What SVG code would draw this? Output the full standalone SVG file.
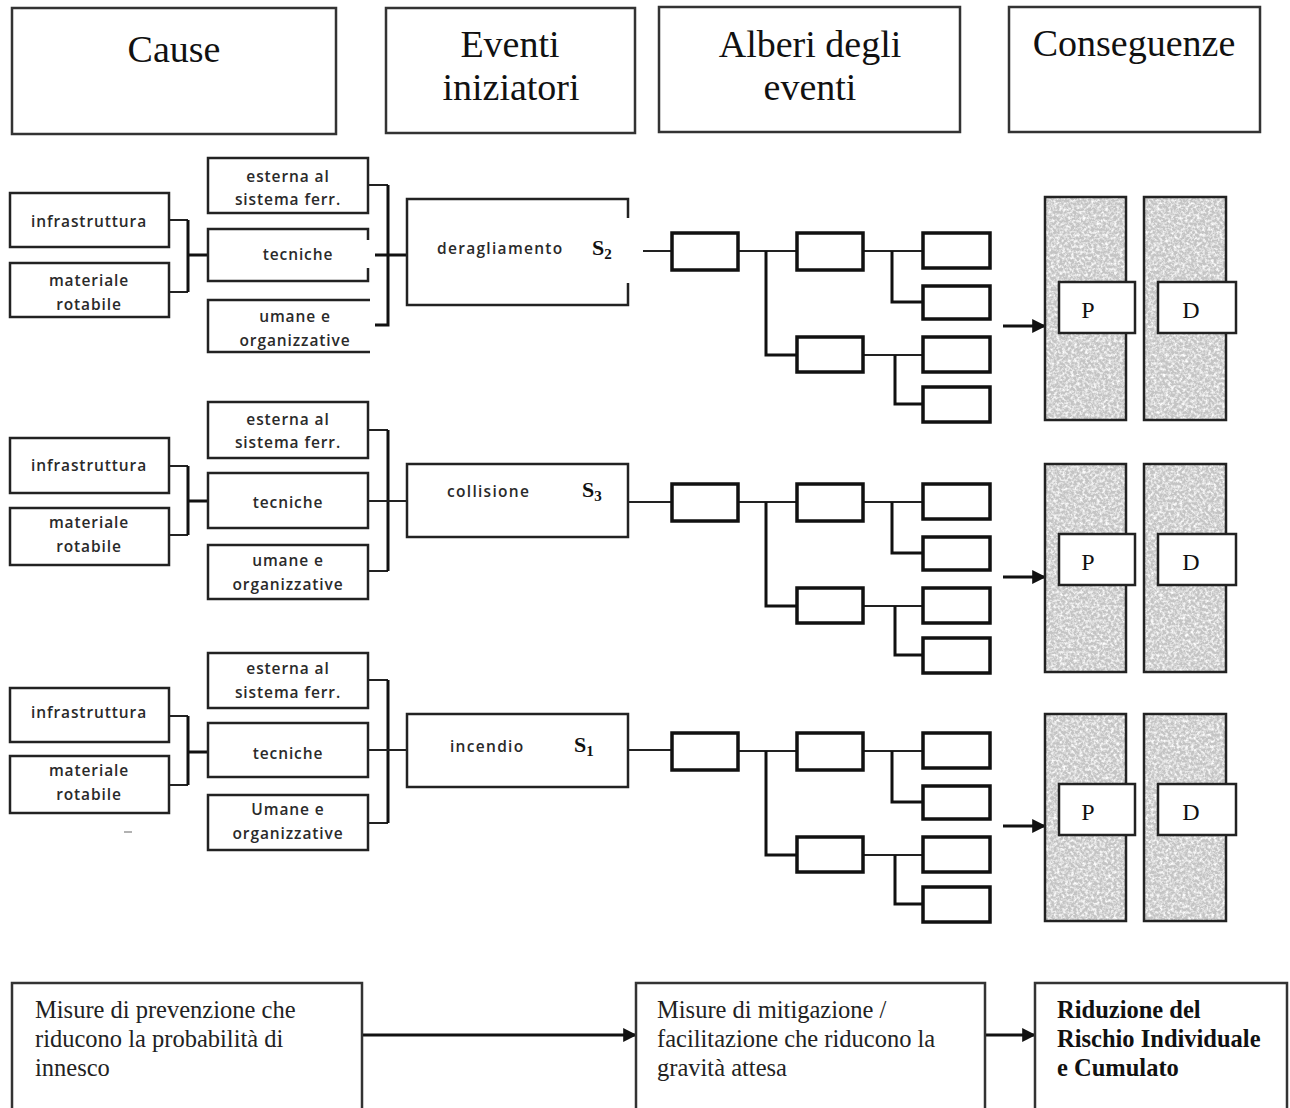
<svg xmlns="http://www.w3.org/2000/svg" width="1290" height="1108" viewBox="0 0 1290 1108">
<style>
.hdr{fill:#fff;stroke:#333;stroke-width:2.5}
.htxt{font-family:"Liberation Serif",serif;font-size:38px;fill:#111;text-anchor:middle}
.cbox{fill:#fff;stroke:#222;stroke-width:2.5}
.ctxt{font-family:"Open Sans","Liberation Sans",sans-serif;font-weight:600;font-size:15.5px;letter-spacing:0.9px;fill:#2a2a2a;text-anchor:middle}
.ebox{fill:#fff;stroke:#222;stroke-width:2.5}
.etxt{font-family:"Open Sans","Liberation Sans",sans-serif;font-weight:600;font-size:15.5px;letter-spacing:1.3px;fill:#2a2a2a}
.stxt{font-family:"Liberation Serif",serif;font-weight:bold;font-size:22px;fill:#111}
.tbox{fill:#fff;stroke:#111;stroke-width:3.5}
.ln{fill:none;stroke:#222;stroke-width:2}
.lnb{fill:none;stroke:#111;stroke-width:3}
.arw{fill:none;stroke:#111;stroke-width:3}
.col{fill:#c4c4c4}
.colb{fill:none;stroke:#222;stroke-width:2.5}
.pbox{fill:#fff;stroke:#222;stroke-width:2.5}
.ptxt{font-family:"Liberation Serif",serif;font-size:24px;fill:#111;text-anchor:middle}
.bbox{fill:#fff;stroke:#333;stroke-width:2.5}
.btxt{font-family:"Liberation Serif",serif;font-size:24.5px;fill:#222}
.bold{font-weight:bold;fill:#111}
</style>
<defs>
<marker id="arr" viewBox="0 0 12 12" refX="11" refY="6" markerWidth="15" markerHeight="14" markerUnits="userSpaceOnUse" orient="auto">
<path d="M0,0 L12,6 L0,12 z" fill="#111"/>
</marker>
<marker id="arr2" viewBox="0 0 12 12" refX="11" refY="6" markerWidth="14" markerHeight="14" markerUnits="userSpaceOnUse" orient="auto">
<path d="M0,0 L12,6 L0,12 z" fill="#111"/>
</marker>
<filter id="grain" filterUnits="objectBoundingBox" x="0" y="0" width="1" height="1">
<feTurbulence type="fractalNoise" baseFrequency="0.35" numOctaves="3" seed="7" result="n"/>
<feColorMatrix in="n" type="matrix" values="0 0 0 0 1  0 0 0 0 1  0 0 0 0 1  2.4 0 0 0 -0.95" result="w"/>
<feComposite in="w" in2="SourceGraphic" operator="in" result="wc"/>
<feMerge><feMergeNode in="SourceGraphic"/><feMergeNode in="wc"/></feMerge>
</filter>
<g id="tree">
<rect class="tbox" x="672" y="233" width="66" height="37"/>
<rect class="tbox" x="797" y="233" width="66" height="37"/>
<rect class="tbox" x="797" y="337" width="66" height="35"/>
<rect class="tbox" x="923" y="233" width="67" height="35"/>
<rect class="tbox" x="923" y="286" width="67" height="33"/>
<rect class="tbox" x="923" y="337" width="67" height="35"/>
<rect class="tbox" x="923" y="387" width="67" height="35"/>
</g>
<g id="treelines">
<path class="ln" d="M738,251 H797 M863,251 H923 M863,355 H923"/>
<path class="lnb" d="M766,251 V355 H797 M892,251 V302 H923 M895,355 V404 H923"/>
</g>
</defs>

<!-- headers -->
<g id="h-cause"><rect class="hdr" x="12" y="8" width="324" height="126"/><text class="htxt" x="174" y="62" font-size="44">Cause</text></g>
<g id="h-eventi"><rect class="hdr" x="386" y="8" width="249" height="125"/><text class="htxt" x="510" y="57">Eventi</text><text class="htxt" x="511" y="100">iniziatori</text></g>
<g id="h-alberi"><rect class="hdr" x="659" y="7" width="301" height="125"/><text class="htxt" x="810" y="57">Alberi degli</text><text class="htxt" x="810" y="100">eventi</text></g>
<g id="h-conseguenze"><rect class="hdr" x="1009" y="7" width="251" height="125"/><text class="htxt" x="1134" y="56">Conseguenze</text></g>

<!-- connectors -->
<g id="connectors">
<!-- block 1 -->
<path class="ln" d="M168,220 H188 M168,292 H188"/>
<path class="lnb" d="M188,220 V292 M188,255 H208"/>
<path class="ln" d="M368,185 H388"/>
<path class="lnb" d="M388,185 V325 H375 M375,255 H406"/>
<path class="ln" d="M643,251 H672"/>
<use href="#treelines"/>
<path class="arw" d="M1003,326 H1045" marker-end="url(#arr)"/>
<!-- block 2 -->
<path class="ln" d="M168,466 H188 M168,535 H188"/>
<path class="lnb" d="M188,466 V535 M188,501 H208"/>
<path class="ln" d="M368,430 H388 M368,571 H388"/>
<path class="lnb" d="M388,430 V571"/>
<path class="ln" d="M368,501 H406"/>
<path class="ln" d="M628,502 H672"/>
<use href="#treelines" transform="translate(0,251)"/>
<path class="arw" d="M1003,577 H1045" marker-end="url(#arr)"/>
<!-- block 3 -->
<path class="ln" d="M168,716 H188 M168,785 H188"/>
<path class="lnb" d="M188,716 V785 M188,752 H208"/>
<path class="ln" d="M368,680 H388 M368,823 H388"/>
<path class="lnb" d="M388,680 V823"/>
<path class="ln" d="M368,750 H406"/>
<path class="ln" d="M628,750 H672"/>
<use href="#treelines" transform="translate(0,500)"/>
<path class="arw" d="M1003,826 H1045" marker-end="url(#arr)"/>
<!-- bottom -->
<path class="lnb" d="M362,1035 H636" marker-end="url(#arr2)"/>
<path class="lnb" d="M985,1035 H1035" marker-end="url(#arr2)"/>
</g>

<!-- block 1 nodes -->
<g id="b1-infra"><rect class="cbox" x="10" y="193" width="159" height="54"/><text class="ctxt" x="89" y="227">infrastruttura</text></g>
<g id="b1-mat"><rect class="cbox" x="10" y="263" width="159" height="54"/><text class="ctxt" x="89" y="286">materiale</text><text class="ctxt" x="89" y="310">rotabile</text></g>
<g id="b1-est"><rect class="cbox" x="208" y="158" width="160" height="55"/><text class="ctxt" x="288" y="182">esterna al</text><text class="ctxt" x="288" y="205">sistema ferr.</text></g>
<g id="b1-tec"><path class="cbox" d="M368,240 V229 H208 V281 H368 V268"/><text class="ctxt" x="298" y="260">tecniche</text></g>
<g id="b1-uma"><path class="cbox" d="M370,300 H208 V352 H370"/><text class="ctxt" x="295" y="322">umane e</text><text class="ctxt" x="295" y="346">organizzative</text></g>
<g id="b1-event"><path class="ebox" d="M628,218 V199 H407 V305 H628 V283"/><text class="etxt" x="437" y="254">deragliamento</text><text class="stxt" x="592" y="255">S<tspan font-size="15" dy="4">2</tspan></text></g>
<g id="b1-tree"><use href="#tree"/></g>
<g id="b1-cons">
<rect class="col" x="1045" y="197" width="81" height="223" filter="url(#grain)"/><rect class="colb" x="1045" y="197" width="81" height="223"/>
<rect class="col" x="1144" y="197" width="82" height="223" filter="url(#grain)"/><rect class="colb" x="1144" y="197" width="82" height="223"/>
<rect class="pbox" x="1059" y="282" width="76" height="51"/><text class="ptxt" x="1088" y="318">P</text>
<rect class="pbox" x="1158" y="282" width="78" height="51"/><text class="ptxt" x="1191" y="318">D</text>
</g>

<!-- block 2 nodes -->
<g id="b2-infra"><rect class="cbox" x="10" y="438" width="159" height="55"/><text class="ctxt" x="89" y="471">infrastruttura</text></g>
<g id="b2-mat"><rect class="cbox" x="10" y="508" width="159" height="57"/><text class="ctxt" x="89" y="528">materiale</text><text class="ctxt" x="89" y="552">rotabile</text></g>
<g id="b2-est"><rect class="cbox" x="208" y="402" width="160" height="56"/><text class="ctxt" x="288" y="425">esterna al</text><text class="ctxt" x="288" y="448">sistema ferr.</text></g>
<g id="b2-tec"><rect class="cbox" x="208" y="473" width="160" height="55"/><text class="ctxt" x="288" y="508">tecniche</text></g>
<g id="b2-uma"><rect class="cbox" x="208" y="545" width="160" height="54"/><text class="ctxt" x="288" y="566">umane e</text><text class="ctxt" x="288" y="590">organizzative</text></g>
<g id="b2-event"><rect class="ebox" x="407" y="464" width="221" height="73"/><text class="etxt" x="447" y="497">collisione</text><text class="stxt" x="582" y="497">S<tspan font-size="15" dy="4">3</tspan></text></g>
<g id="b2-tree"><use href="#tree" transform="translate(0,251)"/></g>
<g id="b2-cons">
<rect class="col" x="1045" y="464" width="81" height="208" filter="url(#grain)"/><rect class="colb" x="1045" y="464" width="81" height="208"/>
<rect class="col" x="1144" y="464" width="82" height="208" filter="url(#grain)"/><rect class="colb" x="1144" y="464" width="82" height="208"/>
<rect class="pbox" x="1059" y="534" width="76" height="51"/><text class="ptxt" x="1088" y="570">P</text>
<rect class="pbox" x="1158" y="534" width="78" height="51"/><text class="ptxt" x="1191" y="570">D</text>
</g>

<!-- block 3 nodes -->
<g id="b3-infra"><rect class="cbox" x="10" y="688" width="159" height="54"/><text class="ctxt" x="89" y="718">infrastruttura</text></g>
<g id="b3-mat"><rect class="cbox" x="10" y="756" width="159" height="57"/><text class="ctxt" x="89" y="776">materiale</text><text class="ctxt" x="89" y="800">rotabile</text></g>
<g id="b3-est"><rect class="cbox" x="208" y="653" width="160" height="55"/><text class="ctxt" x="288" y="674">esterna al</text><text class="ctxt" x="288" y="698">sistema ferr.</text></g>
<g id="b3-tec"><rect class="cbox" x="208" y="723" width="160" height="54"/><text class="ctxt" x="288" y="759">tecniche</text></g>
<g id="b3-uma"><rect class="cbox" x="208" y="795" width="160" height="55"/><text class="ctxt" x="288" y="815">Umane e</text><text class="ctxt" x="288" y="839">organizzative</text></g>
<g id="b3-event"><rect class="ebox" x="407" y="714" width="221" height="73"/><text class="etxt" x="450" y="752">incendio</text><text class="stxt" x="574" y="752">S<tspan font-size="15" dy="4">1</tspan></text></g>
<g id="b3-tree"><use href="#tree" transform="translate(0,500)"/></g>
<g id="b3-cons">
<rect class="col" x="1045" y="714" width="81" height="207" filter="url(#grain)"/><rect class="colb" x="1045" y="714" width="81" height="207"/>
<rect class="col" x="1144" y="714" width="82" height="207" filter="url(#grain)"/><rect class="colb" x="1144" y="714" width="82" height="207"/>
<rect class="pbox" x="1059" y="784" width="76" height="51"/><text class="ptxt" x="1088" y="820">P</text>
<rect class="pbox" x="1158" y="784" width="78" height="51"/><text class="ptxt" x="1191" y="820">D</text>
</g>
<line x1="124" y1="832" x2="132" y2="832" stroke="#999" stroke-width="1.5"/>

<!-- bottom nodes -->
<g id="m-prev"><rect class="bbox" x="12" y="983" width="350" height="130"/><text class="btxt" x="35" y="1018">Misure di prevenzione che</text><text class="btxt" x="35" y="1047">riducono la probabilità di</text><text class="btxt" x="35" y="1076">innesco</text></g>
<g id="m-mitig"><rect class="bbox" x="636" y="983" width="349" height="130"/><text class="btxt" x="657" y="1018">Misure di mitigazione /</text><text class="btxt" x="657" y="1047">facilitazione che riducono la</text><text class="btxt" x="657" y="1076">gravità attesa</text></g>
<g id="m-rid"><rect class="bbox" x="1035" y="983" width="252" height="130"/><text class="btxt bold" x="1057" y="1018">Riduzione del</text><text class="btxt bold" x="1057" y="1047">Rischio Individuale</text><text class="btxt bold" x="1057" y="1076">e Cumulato</text></g>
</svg>
